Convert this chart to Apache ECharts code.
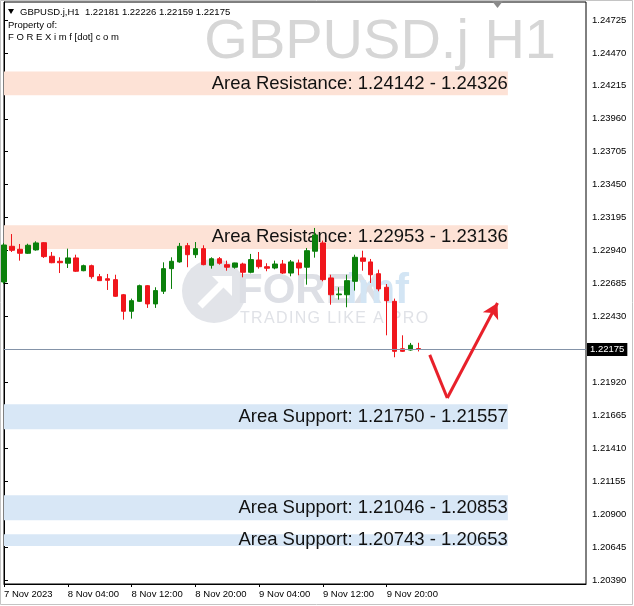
<!DOCTYPE html>
<html>
<head>
<meta charset="utf-8">
<script src="https://cdn.jsdelivr.net/npm/echarts@6/dist/echarts.min.js"></script>
<style>html,body{margin:0;padding:0;background:#fff;}#c{width:634px;height:606px;}</style>
</head>
<body>
<div id="c"></div>
<script>
// ---- data ----
const categories = [
 '7 Nov 20:00','7 Nov 21:00','7 Nov 22:00','7 Nov 23:00',
 '8 Nov 00:00','8 Nov 01:00','8 Nov 02:00','8 Nov 03:00','8 Nov 04:00','8 Nov 05:00','8 Nov 06:00','8 Nov 07:00',
 '8 Nov 08:00','8 Nov 09:00','8 Nov 10:00','8 Nov 11:00','8 Nov 12:00','8 Nov 13:00','8 Nov 14:00','8 Nov 15:00',
 '8 Nov 16:00','8 Nov 17:00','8 Nov 18:00','8 Nov 19:00','8 Nov 20:00','8 Nov 21:00','8 Nov 22:00','8 Nov 23:00',
 '9 Nov 00:00','9 Nov 01:00','9 Nov 02:00','9 Nov 03:00','9 Nov 04:00','9 Nov 05:00','9 Nov 06:00','9 Nov 07:00',
 '9 Nov 08:00','9 Nov 09:00','9 Nov 10:00','9 Nov 11:00','9 Nov 12:00','9 Nov 13:00','9 Nov 14:00','9 Nov 15:00',
 '9 Nov 16:00','9 Nov 17:00','9 Nov 18:00','9 Nov 19:00','9 Nov 20:00','9 Nov 21:00','9 Nov 22:00','9 Nov 23:00',
 '10 Nov 00:00','10 Nov 01:00','10 Nov 02:00','10 Nov 03:00','10 Nov 04:00','10 Nov 05:00','10 Nov 06:00','10 Nov 07:00',
 '10 Nov 08:00','10 Nov 09:00','10 Nov 10:00','10 Nov 11:00','10 Nov 12:00','10 Nov 13:00','10 Nov 14:00','10 Nov 15:00',
 '10 Nov 16:00','10 Nov 17:00','10 Nov 18:00','10 Nov 19:00','10 Nov 20:00','10 Nov 21:00'
];
const opens  = [1.22697,1.22973,1.22950,1.22919,1.22945,1.23001,1.22896,1.22857,1.22842,1.22883,
                1.22784,1.22823,1.22738,1.22722,1.22715,1.22598,1.22470,1.22547,1.22668,1.22527,
                1.22625,1.22800,1.22852,1.22978,1.22908,1.22955,1.22826,1.22877,1.22831,1.22811,
                1.22836,1.22772,1.22867,1.22815,1.22805,1.22836,1.22766,1.22844,1.22811,1.22935,
                1.22999,1.22728,1.22598,1.22598,1.22702,1.22883,1.22852,1.22761,1.22656,1.22547,
                1.22180,1.22170,1.22181];
const closes = [1.22983,1.22942,1.22919,1.22981,1.22999,1.22893,1.22846,1.22846,1.22883,1.22780,
                1.22823,1.22738,1.22707,1.22710,1.22586,1.22470,1.22552,1.22668,1.22527,1.22630,
                1.22800,1.22857,1.22973,1.22908,1.22955,1.22831,1.22877,1.22842,1.22811,1.22844,
                1.22772,1.22870,1.22815,1.22803,1.22836,1.22766,1.22852,1.22805,1.22939,1.23061,
                1.22715,1.22598,1.22604,1.22707,1.22888,1.22857,1.22753,1.22643,1.22552,1.22160,
                1.22160,1.22207,1.22175];
const lows   = [1.22681,1.22929,1.22862,1.22914,1.22939,1.22883,1.22842,1.22766,1.22805,1.22774,
                1.22780,1.22722,1.22705,1.22635,1.22581,1.22405,1.22413,1.22542,1.22496,1.22496,
                1.22604,1.22643,1.22846,1.22811,1.22883,1.22826,1.22800,1.22831,1.22784,1.22800,
                1.22733,1.22764,1.22800,1.22780,1.22795,1.22759,1.22741,1.22749,1.22676,1.22885,
                1.22702,1.22521,1.22560,1.22501,1.22630,1.22784,1.22689,1.22625,1.22284,1.22114,
                1.22155,1.22165,1.22159];
const highs  = [1.22999,1.23068,1.22991,1.22993,1.23012,1.23006,1.22929,1.22888,1.22955,1.22908,
                1.22831,1.22831,1.22759,1.22759,1.22753,1.22604,1.22568,1.22676,1.22673,1.22656,
                1.22849,1.22888,1.22999,1.22999,1.23006,1.22981,1.22888,1.22890,1.22862,1.22846,
                1.22846,1.22914,1.22929,1.22842,1.22862,1.22867,1.22867,1.22870,1.22960,1.23115,
                1.23017,1.22753,1.22656,1.22753,1.22908,1.22939,1.22875,1.22792,1.22681,1.22568,
                1.22284,1.22225,1.22226];
const yTicks = ['1.20390','1.20645','1.20900','1.21155','1.21410','1.21665','1.21920','1.22175','1.22430',
                '1.22685','1.22940','1.23195','1.23450','1.23705','1.23960','1.24215','1.24470','1.24725'];
const xTickLabels = ['7 Nov 2023','8 Nov 04:00','8 Nov 12:00','8 Nov 20:00','9 Nov 04:00','9 Nov 12:00','9 Nov 20:00'];
const lastPrice = 1.22175;
const zoneLow    = [1.24142, 1.22953, 1.21557, 1.20853, 1.20653];
const zoneHigh   = [1.24326, 1.23136, 1.21750, 1.21046, 1.20743];
const zoneKind   = ['res','res','sup','sup','sup'];
const zoneLabels = ['Area Resistance: 1.24142 - 1.24326','Area Resistance: 1.22953 - 1.23136',
                    'Area Support: 1.21750 - 1.21557','Area Support: 1.21046 - 1.20853','Area Support: 1.20743 - 1.20653'];
const zoneEndIndex = 63.2;
const arrowX = [53.4, 55.6, 61.9];
const arrowY = [1.22132, 1.21799, 1.22534];
const headerText = 'GBPUSD.j,H1  1.22181 1.22226 1.22159 1.22175';

// ---- build ----
const candles = opens.map((o, i) => [o, closes[i], lows[i], highs[i]]);
const UP = '#0b800b', DN = '#f0161c';
const FONT = '"Liberation Sans", Arial, sans-serif';
const lastIdx = categories.length - 1;
const HS = '\u200A';

const zoneData = zoneLow.map((lo, i) => [
  { coord: [0, zoneHigh[i]], itemStyle: { color: zoneKind[i] === 'res' ? '#fde2d6' : '#d8e7f6' },
    label: { formatter: zoneLabels[i] } },
  { coord: [zoneEndIndex, lo] }
]);

const chart = echarts.init(document.getElementById('c'), null, { renderer: 'canvas' });
chart.setOption({
  animation: false,
  backgroundColor: '#ffffff',
  grid: { left: 4, right: 48, top: 2, bottom: 22, show: true, borderColor: '#000', borderWidth: 1 },
  xAxis: [{
    type: 'category', data: categories, boundaryGap: false,
    axisLine: { show: true, lineStyle: { color: '#000', width: 1 } },
    axisTick: { show: true, length: 3, lineStyle: { color: '#000' },
      interval: (i) => i % 8 === 0 && i <= 48 },
    axisLabel: { show: true, align: 'left', margin: 5, color: '#000', fontSize: 9.5, fontFamily: FONT,
      interval: (i) => i % 8 === 0 && i <= 48,
      formatter: (v, i) => xTickLabels[i / 8] || '' },
    splitLine: { show: false }
  }, {
    type: 'value', min: 0, max: lastIdx, show: false
  }],
  yAxis: {
    type: 'value', position: 'right', min: 1.203587, max: 1.248643, scale: true,
    axisLine: { show: true, lineStyle: { color: '#000', width: 1 } },
    axisTick: { show: true, length: 4, lineStyle: { color: '#000' }, customValues: yTicks.map(Number) },
    axisLabel: { color: '#000', fontSize: 9.5, fontFamily: FONT, margin: 6,
      customValues: yTicks.map(Number), formatter: (v) => Number(v).toFixed(5) },
    splitLine: { show: false }
  },
  graphic: [
    { type: 'rect', silent: true, z: -10, shape: { x: 0.5, y: 0.5, width: 632, height: 604 },
      style: { fill: 'none', stroke: '#c4c4c4', lineWidth: 1 } },
    { type: 'text', silent: true, z: -5, style: { text: 'GBPUSD.j H1', x: 556, y: 43, textAlign: 'right',
      textVerticalAlign: 'middle', fill: '#d6d6d6', font: '56px ' + FONT } },
    { type: 'polygon', silent: true, shape: { points: [[8, 9], [14, 9], [11, 14]] }, style: { fill: '#000' } },
    { type: 'text', silent: true, style: { text: headerText, x: 20, y: 12, textVerticalAlign: 'middle',
      fill: '#000', font: '9.5px ' + FONT } },
    { type: 'text', silent: true, style: { text: 'Property of:', x: 8, y: 25, textVerticalAlign: 'middle',
      fill: '#000', font: '9.5px ' + FONT } },
    { type: 'text', silent: true, style: { text: 'F O R E X i m f [dot] c o m', x: 8, y: 37,
      textVerticalAlign: 'middle', fill: '#000', font: '9.5px ' + FONT } },
    { type: 'polygon', silent: true, shape: { points: [[492, 1], [503, 1], [497.5, 8]] }, style: { fill: '#8a8a8a' } },
    // watermark logo
    { type: 'circle', silent: true, z: -5, shape: { cx: 214, cy: 291, r: 32 }, style: { fill: '#e2e4e9' } },
    { type: 'line', silent: true, z: -4, shape: { x1: 200, y1: 306, x2: 224, y2: 282 },
      style: { stroke: '#ffffff', lineWidth: 7 } },
    { type: 'polygon', silent: true, z: -4, shape: { points: [[212, 276], [232, 276], [232, 296]] },
      style: { fill: '#ffffff' } },
    { type: 'text', silent: true, z: -5, style: { text: 'FOREX', x: 237, y: 291, textVerticalAlign: 'middle',
      fill: '#dddfe5', font: 'bold 42px ' + FONT } },
    { type: 'text', silent: true, z: -5, style: { text: 'imf', x: 346, y: 291, textVerticalAlign: 'middle',
      fill: '#d3e5f4', font: 'bold 42px ' + FONT } },
    { type: 'text', silent: true, z: -5, style: { text: 'TRADING LIKE A PRO'.split('').join(HS), x: 240, y: 319,
      textVerticalAlign: 'middle', fill: '#e0e2e7', font: '16px ' + FONT } }
  ],
  series: [{
    type: 'candlestick', name: 'GBPUSD.j', data: candles, barWidth: 5, clip: true, z: 3,
    itemStyle: { color: UP, color0: DN, borderColor: UP, borderColor0: DN, borderWidth: 1 }
  }, {
    type: 'line', xAxisIndex: 1, yAxisIndex: 0, data: [], silent: true, z: 1,
    markArea: {
      silent: true, z: 1,
      label: { show: true, position: 'insideRight', distance: 0, color: '#111', fontSize: 18.5, fontFamily: FONT },
      data: zoneData
    }
  }, {
    type: 'line', xAxisIndex: 1, yAxisIndex: 0, data: [], silent: true, z: 2,
    markLine: {
      silent: true, symbol: ['none', 'none'],
      lineStyle: { color: '#8493a8', width: 1, type: 'solid' },
      label: { show: true, position: 'end', distance: 1, formatter: lastPrice.toFixed(5),
        backgroundColor: '#000', color: '#fff', padding: [2, 3, 1, 3], fontSize: 9.5, fontFamily: FONT },
      data: [[{ coord: [0, lastPrice] }, { coord: [lastIdx, lastPrice] }]]
    }
  }, {
    type: 'line', xAxisIndex: 1, yAxisIndex: 0, data: [], silent: true, z: 5,
    markLine: {
      silent: true, symbol: ['none', 'none'], label: { show: false },
      lineStyle: { color: '#e8202a', width: 3, type: 'solid' },
      data: [
        [{ coord: [arrowX[0], arrowY[0]] }, { coord: [arrowX[1], arrowY[1]] }],
        [{ coord: [arrowX[1], arrowY[1]] }, { coord: [arrowX[2], arrowY[2]], symbol: 'arrow', symbolSize: [13, 15] }]
      ]
    }
  }]
});
</script>
</body>
</html>
